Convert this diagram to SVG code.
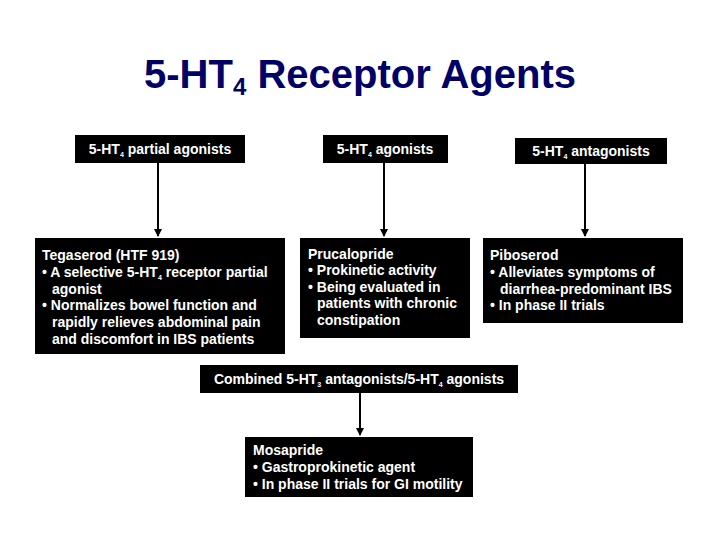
<svg xmlns="http://www.w3.org/2000/svg" width="720" height="540" viewBox="0 0 720 540">
<style>
.box{fill:#000}
.t{font-family:"Liberation Sans",Arial,sans-serif;font-weight:bold;font-size:14px;fill:#fff}
.c{text-anchor:middle}
.sub{font-size:7px}
.title{font-family:"Liberation Sans",Arial,sans-serif;font-weight:bold;font-size:40px;fill:#000066;text-anchor:middle}
.ln{stroke:#000;stroke-width:2;fill:none}
</style>
<defs>
<marker id="ah" markerWidth="8" markerHeight="8" refX="7" refY="4" orient="auto" markerUnits="userSpaceOnUse">
<path d="M0,0 L8,4 L0,8 Z" fill="#000"/>
</marker>
</defs>
<rect width="720" height="540" fill="#fff"/>
<text class="title" x="360" y="88">5-HT<tspan font-size="24" dy="7">4</tspan><tspan dy="-7"> Receptor Agents</tspan></text>

<g id="connectors">
<line class="ln" x1="158" y1="163" x2="158" y2="236" marker-end="url(#ah)"/>
<line class="ln" x1="384" y1="163" x2="384" y2="236" marker-end="url(#ah)"/>
<line class="ln" x1="585" y1="163" x2="585" y2="236" marker-end="url(#ah)"/>
<line class="ln" x1="360" y1="393" x2="360" y2="435" marker-end="url(#ah)"/>
</g>

<g id="partial-agonists">
<rect class="box" x="75" y="135" width="170" height="28"/>
<text class="t c" x="160" y="154">5-HT<tspan class="sub" dy="3">4</tspan><tspan dy="-3"> partial agonists</tspan></text>
</g>
<g id="agonists">
<rect class="box" x="323" y="135" width="125" height="28"/>
<text class="t c" x="385" y="154">5-HT<tspan class="sub" dy="3">4</tspan><tspan dy="-3"> agonists</tspan></text>
</g>
<g id="antagonists">
<rect class="box" x="515" y="138" width="152" height="26"/>
<text class="t c" x="591" y="156">5-HT<tspan class="sub" dy="3">4</tspan><tspan dy="-3"> antagonists</tspan></text>
</g>

<g id="tegaserod">
<rect class="box" x="35" y="238" width="250" height="116"/>
<text class="t" x="42" y="260">Tegaserod (HTF 919)</text>
<text class="t" x="42" y="277">• A selective 5-HT<tspan class="sub" dy="3">4</tspan><tspan dy="-3"> receptor partial</tspan></text>
<text class="t" x="52" y="294">agonist</text>
<text class="t" x="42" y="310">• Normalizes bowel function and</text>
<text class="t" x="52" y="327">rapidly relieves abdominal pain</text>
<text class="t" x="52" y="344">and discomfort in IBS patients</text>
</g>

<g id="prucalopride">
<rect class="box" x="300" y="238" width="170" height="100"/>
<text class="t" x="308" y="259">Prucalopride</text>
<text class="t" x="308" y="275">• Prokinetic activity</text>
<text class="t" x="308" y="292">• Being evaluated in</text>
<text class="t" x="317" y="308">patients with chronic</text>
<text class="t" x="317" y="325">constipation</text>
</g>

<g id="piboserod">
<rect class="box" x="483" y="238" width="200" height="85"/>
<text class="t" x="490" y="260">Piboserod</text>
<text class="t" x="490" y="277">• Alleviates symptoms of</text>
<text class="t" x="500" y="294">diarrhea-predominant IBS</text>
<text class="t" x="490" y="310">• In phase II trials</text>
</g>

<g id="combined">
<rect class="box" x="200" y="365" width="318" height="28"/>
<text class="t c" x="359" y="384">Combined 5-HT<tspan class="sub" dy="3">3</tspan><tspan dy="-3"> antagonists/5-HT</tspan><tspan class="sub" dy="3">4</tspan><tspan dy="-3"> agonists</tspan></text>
</g>

<g id="mosapride">
<rect class="box" x="245" y="437" width="228" height="60"/>
<text class="t" x="253" y="455">Mosapride</text>
<text class="t" x="253" y="472">• Gastroprokinetic agent</text>
<text class="t" x="253" y="489">• In phase II trials for GI motility</text>
</g>
</svg>
